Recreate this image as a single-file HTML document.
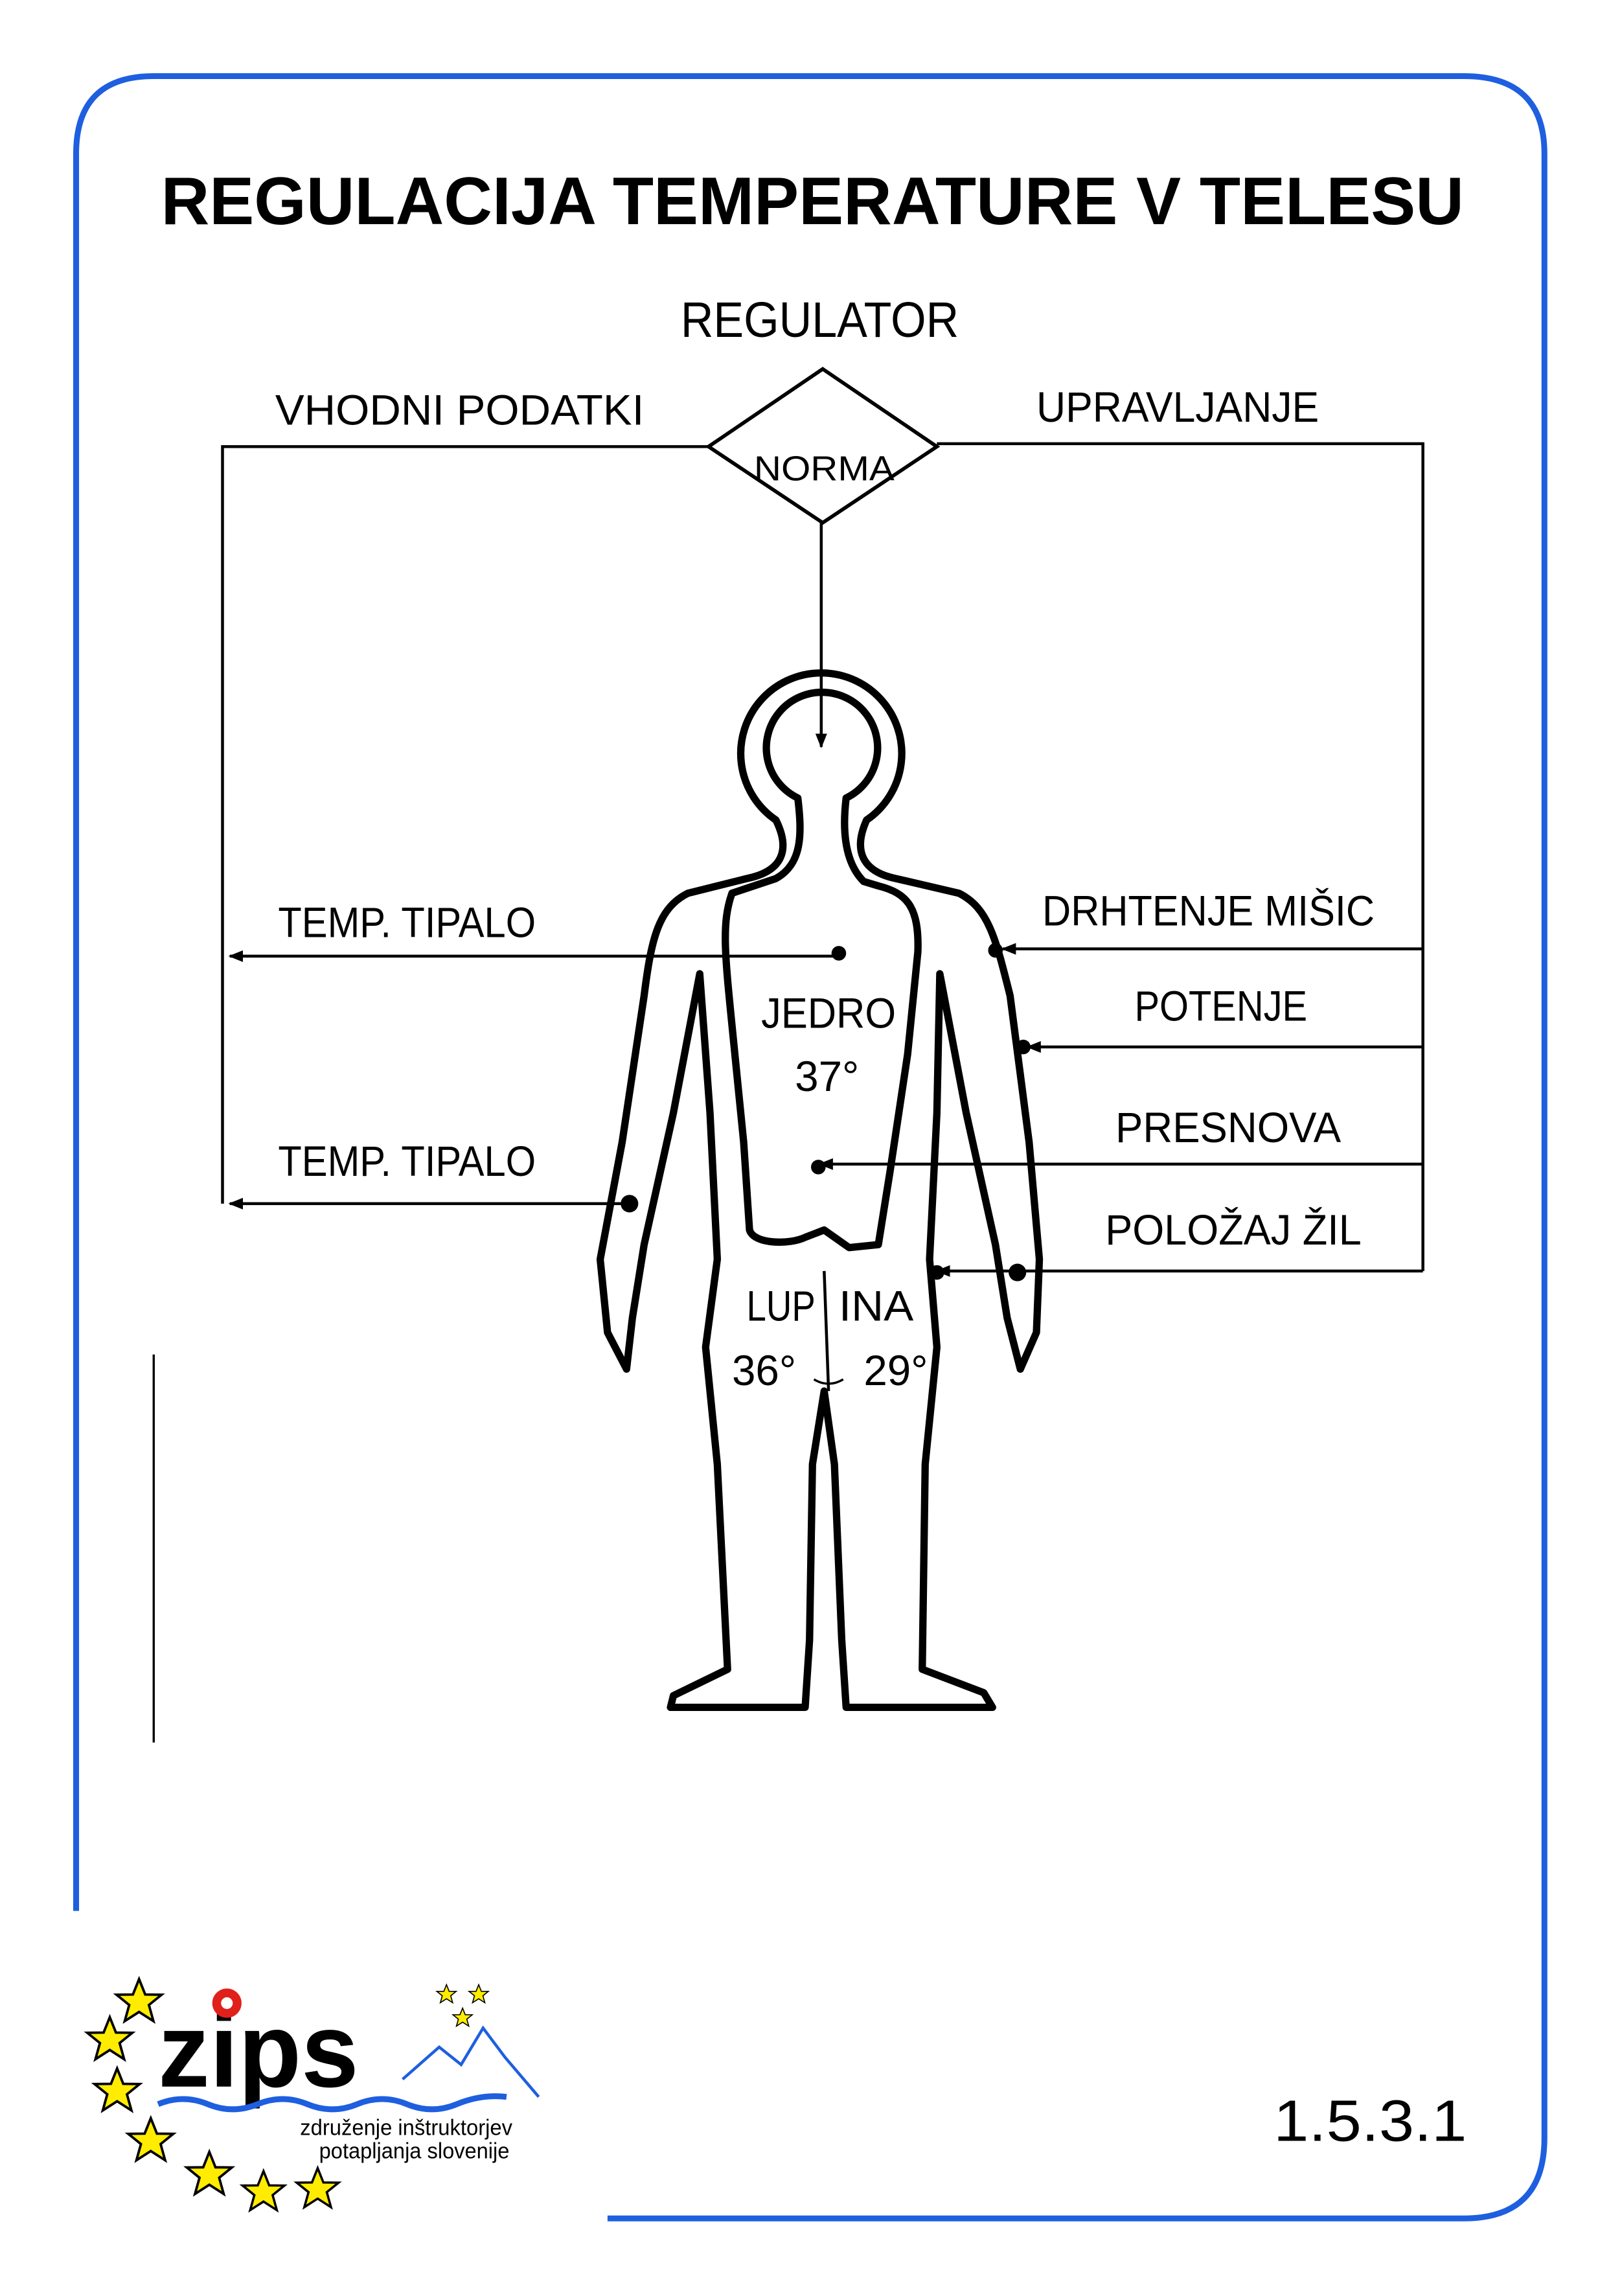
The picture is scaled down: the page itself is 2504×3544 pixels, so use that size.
<!DOCTYPE html>
<html><head><meta charset="utf-8"><style>
html,body{margin:0;padding:0;background:#fff}
svg{display:block}
text{font-family:"Liberation Sans",sans-serif}
</style></head><body>
<svg width="2504" height="3544" viewBox="0 0 1108 1568" preserveAspectRatio="none" xmlns="http://www.w3.org/2000/svg">
<defs>
<marker id="ah" markerWidth="10" markerHeight="8" refX="9" refY="4" orient="auto" markerUnits="userSpaceOnUse">
<path d="M0,0 L10,4 L0,8 Z" fill="#000"/></marker>
<path id="star" d="M0,-11 L3,-3.5 L11,-3.4 L4.8,1.6 L7,9.5 L0,5 L-7,9.5 L-4.8,1.6 L-11,-3.4 L-3,-3.5 Z"/>
</defs>
<path d="M52,1305 L52,105 Q52,52 105,52 L1000,52 Q1055,52 1055,105 L1055,1460 Q1055,1515 1000,1515 L415,1515" fill="none" stroke="#1e5fe0" stroke-width="4"/>
<line x1="105" y1="925" x2="105" y2="1190" stroke="#000" stroke-width="1.5"/>
<text x="110" y="153" font-size="46" font-weight="bold" textLength="890" lengthAdjust="spacingAndGlyphs">REGULACIJA TEMPERATURE V TELESU</text>
<text x="465" y="230" font-size="34" textLength="190" lengthAdjust="spacingAndGlyphs">REGULATOR</text>
<text x="188" y="290" font-size="29" textLength="252" lengthAdjust="spacingAndGlyphs">VHODNI PODATKI</text>
<text x="708" y="288" font-size="29" textLength="193" lengthAdjust="spacingAndGlyphs">UPRAVLJANJE</text>
<path d="M562,252 L640,305 L562,357 L484,305 Z" fill="none" stroke="#000" stroke-width="2.5"/>
<text x="515" y="328" font-size="24" textLength="96" lengthAdjust="spacingAndGlyphs">NORMA</text>
<g fill="none" stroke="#000" stroke-width="2">
<polyline points="484,305 152,305 152,822"/>
<polyline points="640,303 972,303 972,868"/>
<line x1="561" y1="357" x2="561" y2="510" marker-end="url(#ah)"/>
<line x1="573" y1="653" x2="157" y2="653" marker-end="url(#ah)"/>
<line x1="430" y1="822" x2="157" y2="822" marker-end="url(#ah)"/>
<line x1="972" y1="648" x2="685" y2="648" marker-end="url(#ah)"/>
<line x1="972" y1="715" x2="702" y2="715" marker-end="url(#ah)"/>
<line x1="972" y1="795" x2="560" y2="795" marker-end="url(#ah)"/>
<line x1="972" y1="868" x2="640" y2="868" marker-end="url(#ah)"/>
</g>
<g fill="none" stroke="#000" stroke-width="5" stroke-linejoin="round">
<path d="M530,560 C540,580 535,595 510,600 L470,610 C450,620 445,640 440,680 L425,780 L410,860 L415,910 L428,935 L432,900 L440,850 L460,760 L478,665 L485,760 L490,860 L482,920 L490,1000 L497,1140 L460,1158 L458,1166 L550,1166 L553,1120 L555,1000 L563,950 L570,1000 L575,1120 L578,1166 L678,1166 L672,1156 L630,1140 L632,1000 L640,920 L635,860 L640,760 L642,665 L660,760 L680,850 L688,900 L697,935 L708,910 L710,860 L703,780 L690,680 C680,640 675,620 655,610 L612,600 C588,595 583,580 592,560 A55,55 0 1 0 530,560 Z"/>
<path d="M545,545 C548,570 548,590 530,600 L500,610 C493,630 495,650 500,700 L508,780 L512,840 C515,850 540,850 550,845 L563,840 L580,852 L600,850 L608,800 L620,720 L627,650 C628,620 620,610 600,605 L590,602 C578,590 575,570 578,545 A38,38 0 1 0 545,545 Z"/>
</g>
<line x1="563" y1="868" x2="566" y2="950" stroke="#000" stroke-width="2"/>
<path d="M556,942 Q566,948 576,942" fill="none" stroke="#000" stroke-width="1.5"/>
<g fill="#000">
<circle cx="573" cy="651" r="5"/><circle cx="680" cy="649" r="5"/><circle cx="699" cy="715" r="5"/>
<circle cx="559" cy="797" r="5"/><circle cx="430" cy="822" r="6"/><circle cx="695" cy="869" r="6"/><circle cx="640" cy="869" r="5"/>
</g>
<g font-size="29">
<text x="190" y="640" textLength="176" lengthAdjust="spacingAndGlyphs">TEMP. TIPALO</text>
<text x="190" y="803" textLength="176" lengthAdjust="spacingAndGlyphs">TEMP. TIPALO</text>
<text x="712" y="632" textLength="227" lengthAdjust="spacingAndGlyphs">DRHTENJE MIŠIC</text>
<text x="775" y="697" textLength="118" lengthAdjust="spacingAndGlyphs">POTENJE</text>
<text x="762" y="780" textLength="154" lengthAdjust="spacingAndGlyphs">PRESNOVA</text>
<text x="755" y="850" textLength="175" lengthAdjust="spacingAndGlyphs">POLOŽAJ ŽIL</text>
<text x="520" y="702" textLength="92" lengthAdjust="spacingAndGlyphs">JEDRO</text>
<text x="543" y="745">37°</text>
<text x="510" y="902" textLength="47" lengthAdjust="spacingAndGlyphs">LUP</text>
<text x="573" y="902" textLength="51" lengthAdjust="spacingAndGlyphs">INA</text>
<text x="500" y="946">36°</text>
<text x="590" y="946">29°</text>
</g>
<g fill="#ffec00" stroke="#000" stroke-width="1.2">
<use href="#star" transform="translate(95,1367) scale(1.4)"/>
<use href="#star" transform="translate(75,1393) scale(1.4)"/>
<use href="#star" transform="translate(80,1428) scale(1.4)"/>
<use href="#star" transform="translate(103,1462) scale(1.4)"/>
<use href="#star" transform="translate(143,1485) scale(1.4)"/>
<use href="#star" transform="translate(180,1497) scale(1.3)"/>
<use href="#star" transform="translate(217,1495) scale(1.3)"/>
<use href="#star" transform="translate(305,1362) scale(0.6)"/>
<use href="#star" transform="translate(327,1362) scale(0.6)"/>
<use href="#star" transform="translate(316,1378) scale(0.6)"/>
</g>
<text x="108" y="1425" font-size="72" font-weight="bold" textLength="137" lengthAdjust="spacingAndGlyphs">zips</text>
<circle cx="155" cy="1368" r="10" fill="#e0201b"/>
<circle cx="155" cy="1368" r="4" fill="#fff"/>
<path d="M108,1437 Q125,1430 142,1437 T176,1437 T210,1437 T244,1437 T278,1437 T312,1437 T346,1432" fill="none" stroke="#1e5fe0" stroke-width="4"/>
<polyline points="275,1420 300,1398 315,1410 330,1385 345,1405 368,1432" fill="none" stroke="#1e5fe0" stroke-width="2"/>
<text x="205" y="1458" font-size="15" textLength="145" lengthAdjust="spacingAndGlyphs">združenje inštruktorjev</text>
<text x="218" y="1474" font-size="15" textLength="130" lengthAdjust="spacingAndGlyphs">potapljanja slovenije</text>
<text x="870" y="1462" font-size="40" textLength="132" lengthAdjust="spacingAndGlyphs">1.5.3.1</text>
</svg>
</body></html>
